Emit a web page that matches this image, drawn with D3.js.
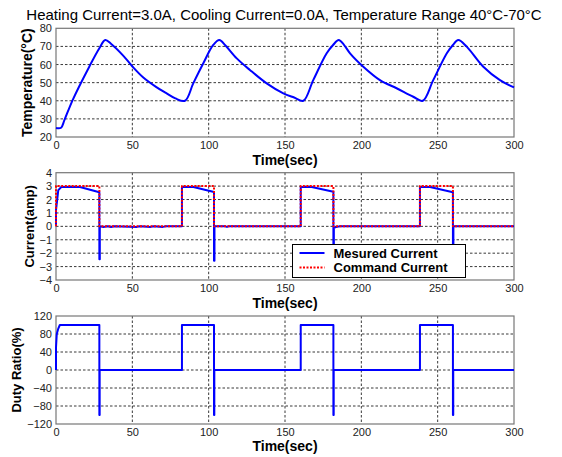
<!DOCTYPE html>
<html>
<head>
<meta charset="utf-8">
<script src="https://cdn.jsdelivr.net/npm/d3@7"></script>
<style>
  body { margin: 0; background: #fff; }
  svg { display: block; font-family: Arial, "Liberation Sans", sans-serif; }
  .grid line { stroke: #222; stroke-dasharray: 2.5,2; stroke-width: 0.9; }
  .tick text { fill: #222; }
</style>
</head>
<body>
<div id="chart"></div>
<script>
// time in seconds
var tempData = [
  [0, 25], [3.3, 25.1], [5.5, 29.3], [10.9, 40.4], [21.8, 58.8], [28.4, 69], [32.3, 73.5],
  [36, 71.5], [43.7, 65.2], [50.2, 58.8], [57, 53], [65.5, 47.7], [72, 44.3], [78.2, 41.3], [84.5, 40],
  [89.9, 49.6], [96.5, 60.7], [103, 70.8], [107, 73.5],
  [111, 70.5], [118.4, 63.4], [127, 57], [138, 49.6], [148.9, 44.1], [156, 41.8], [162, 40],
  [168.5, 51.4], [177.3, 66.2], [181.5, 70.8], [185.2, 73.5],
  [188.5, 71], [192.6, 66.2], [201.3, 58.8], [212.2, 51.4], [223.1, 46.9], [234, 42.2], [240.2, 40],
  [247.1, 51.4], [256, 66.2], [260, 70.8], [263.5, 73.5],
  [269, 69.9], [279.9, 58.8], [290.8, 51.4], [300, 47.4]
];

var measuredCurrent = [
  [0, 0], [0, 1.2], [1.5, 2.7], [3.5, 2.93], [15.7, 2.93], [28.4, 2.54], [28.4, -2.46], [28.7, -2.46], [28.7, 0],
  [31, -0.04], [34, 0], [36, -0.05], [38, 0], [53, -0.04], [55, 0], [62, -0.04], [64, 0], [70, -0.04], [72, 0],
  [82.5, 0], [82.5, 2.93], [90, 2.93], [103.5, 2.56], [103.5, -2.56], [103.8, -2.56], [103.8, 0],
  [111, 0], [112, -0.04], [113, 0],
  [160.3, 0], [160.3, 2.93], [167.5, 2.93], [181.7, 2.58], [181.7, -2.5], [182, -2.5], [182, -0.1], [184, -0.04], [186, 0],
  [238.4, 0], [238.4, 2.93], [245, 2.93], [260, 2.54], [260, -2.5], [260.3, -2.5], [260.3, 0],
  [300, 0]
];

var commandCurrent = [
  [0, 0], [0, 3], [28.4, 3], [28.4, 0], [82.5, 0], [82.5, 3], [103.5, 3], [103.5, 0],
  [160.3, 0], [160.3, 3], [181.7, 3], [181.7, 0], [238.4, 0], [238.4, 3], [260, 3], [260, 0], [300, 0]
];

var dutyRatio = [
  [0, 0], [0, 50], [0.5, 80], [1.5, 92], [2.5, 100], [28.4, 100], [28.4, -100], [28.6, -100], [28.6, 0],
  [82.5, 0], [82.5, 100], [103.5, 100], [103.5, -100], [103.7, -100], [103.7, 0],
  [160.3, 0], [160.3, 100], [181.7, 100], [181.7, -100], [181.9, -100], [181.9, 0],
  [238.4, 0], [238.4, 100], [260, 100], [260, -100], [260.2, -100], [260.2, 0],
  [300, 0]
];

var timeTicks = [0, 50, 100, 150, 200, 250, 300];
var tempTicks = [20, 30, 40, 50, 60, 70, 80];
var currentTicks = [-4, -3, -2, -1, 0, 1, 2, 3, 4];
var dutyTicks = [-120, -80, -40, 0, 40, 80, 120];
var legendLabels = ["Mesured Current", "Command Current"];

var titleText = "Heating Current=3.0A, Cooling Current=0.0A, Temperature Range 40\u00B0C-70\u00B0C";

var W = 562, H = 457;
var left = 56, right = 514;

var svg = d3.select("#chart").append("svg")
  .attr("width", W).attr("height", H);

svg.append("text")
  .attr("x", 284).attr("y", 20)
  .attr("text-anchor", "middle")
  .style("font-size", "15px")
  .text(titleText);

var x = d3.scaleLinear().domain([0, 300]).range([left, right]);

function panel(top, bottom, yDomain, yTicks, yLabel, labelX, labelSize, xLabelY) {
  var y = d3.scaleLinear().domain(yDomain).range([bottom, top]);
  var g = svg.append("g");

  // grid
  var grid = g.append("g").attr("class", "grid");
  grid.selectAll("line.v").data(timeTicks.slice(1, -1)).enter().append("line")
    .attr("x1", function (d) { return x(d); }).attr("x2", function (d) { return x(d); })
    .attr("y1", top).attr("y2", bottom);
  grid.selectAll("line.h").data(yTicks.slice(1, -1)).enter().append("line")
    .attr("y1", function (d) { return y(d); }).attr("y2", function (d) { return y(d); })
    .attr("x1", left).attr("x2", right);

  // axes
  var xa = g.append("g").attr("transform", "translate(0," + bottom + ")")
    .call(d3.axisBottom(x).tickValues(timeTicks).tickSize(0).tickPadding(4));
  var ya = g.append("g").attr("transform", "translate(" + left + ",0)")
    .call(d3.axisLeft(y).tickValues(yTicks).tickSize(0).tickPadding(4));
  [xa, ya].forEach(function (a) {
    a.select(".domain").remove();
    a.selectAll("text").style("font-size", "11px").style("font-family", "Arial, 'Liberation Sans', sans-serif");
  });

  g.append("rect")
    .attr("x", left).attr("y", top)
    .attr("width", right - left).attr("height", bottom - top)
    .attr("fill", "none").attr("stroke", "#777").attr("stroke-width", 1.2);

  g.append("text")
    .attr("transform", "translate(" + labelX + "," + ((top + bottom) / 2) + ") rotate(-90)")
    .attr("text-anchor", "middle")
    .style("font-size", labelSize + "px").style("font-weight", "bold")
    .text(yLabel);

  g.append("text")
    .attr("x", (left + right) / 2).attr("y", xLabelY)
    .attr("text-anchor", "middle")
    .style("font-size", "14px").style("font-weight", "bold")
    .text("Time(sec)");

  return { g: g, y: y };
}

function drawLine(p, data, color, dash, curve) {
  var line = d3.line()
    .curve(curve || d3.curveLinear)
    .x(function (d) { return x(d[0]); })
    .y(function (d) { return p.y(d[1]); });
  p.g.append("path")
    .datum(data)
    .attr("d", line)
    .attr("fill", "none")
    .attr("stroke", color)
    .attr("stroke-width", 2)
    .attr("stroke-dasharray", dash || null)
    .attr("stroke-linejoin", "round");
}

var p1 = panel(28.3, 137, [20, 80], tempTicks, "Temperature(\u00B0C)", 32, 14, 165);
drawLine(p1, tempData, "#0000ff", null, d3.curveCatmullRom.alpha(0.5));

var p2 = panel(172.7, 280, [-4, 4], currentTicks, "Current(amp)", 34, 13, 308);
drawLine(p2, measuredCurrent, "#0000ff");
drawLine(p2, commandCurrent, "#ff0000", "2,1.5");

// legend
var lg = p2.g.append("g").attr("transform", "translate(292.5,244.5)");
lg.append("rect").attr("width", 173).attr("height", 33)
  .attr("fill", "#fff").attr("stroke", "#000").attr("stroke-width", 1);
var items = lg.selectAll("g.item").data(legendLabels).enter().append("g")
  .attr("transform", function (d, i) { return "translate(0," + (8.5 + i * 14.5) + ")"; });
items.append("line")
  .attr("x1", 7).attr("x2", 32).attr("y1", 0).attr("y2", 0)
  .attr("stroke", function (d, i) { return i === 0 ? "#0000ff" : "#ff0000"; })
  .attr("stroke-width", 2)
  .attr("stroke-dasharray", function (d, i) { return i === 0 ? null : "2,1.5"; });
items.append("text")
  .attr("x", 41).attr("y", 4.5)
  .style("font-size", "13px").style("font-weight", "bold")
  .text(function (d) { return d; });

var p3 = panel(316, 424, [-120, 120], dutyTicks, "Duty Ratio(%)", 21, 13, 451);
drawLine(p3, dutyRatio, "#0000ff");
</script>
</body>
</html>
